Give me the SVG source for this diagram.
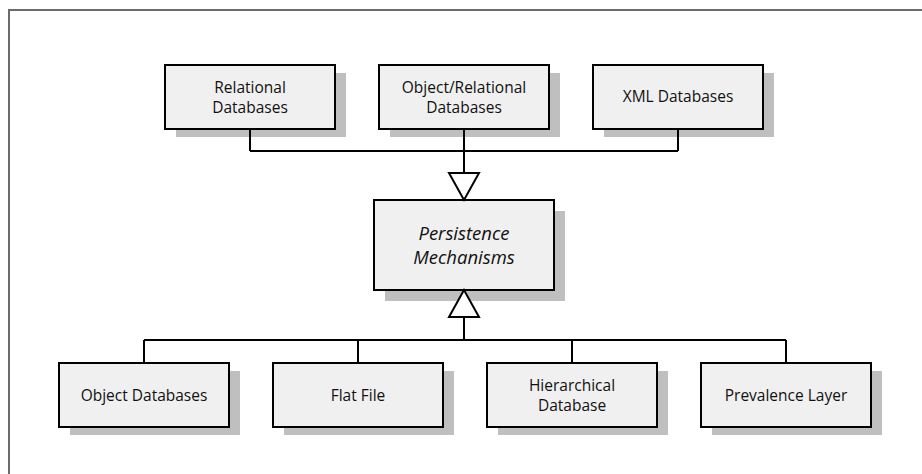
<svg xmlns="http://www.w3.org/2000/svg" width="922" height="474" viewBox="0 0 922 474">
  <style>
    .frame { stroke: #6b6b6b; stroke-width: 2; fill: none; }
    .shadow { fill: #bfbfbf; }
    .box { fill: #f0f0f0; stroke: #000; stroke-width: 2; }
    .label { font-family: "Open Sans", "Liberation Sans", sans-serif; font-size: 15.5px; fill: #111; text-anchor: middle; }
    .abstract { font-size: 18.5px; font-style: italic; }
    .wire { stroke: #000; stroke-width: 2; fill: none; }
    .head { fill: #fff; stroke: #000; stroke-width: 2; stroke-linejoin: miter; }
  </style>

  <rect width="922" height="474" fill="#fff"/>
  <!-- page frame (top and left edges visible) -->
  <path class="frame" d="M9,474 V10 H922"/>

  <!-- supertypes of the abstract class -->
  <g id="relational-databases">
    <rect class="shadow" x="176" y="73" width="170" height="64"/>
    <rect class="box" x="165" y="65" width="170" height="64"/>
    <text class="label" x="250" y="92.5">Relational</text>
    <text class="label" x="250" y="113">Databases</text>
  </g>
  <g id="object-relational-databases">
    <rect class="shadow" x="390" y="73" width="170" height="64"/>
    <rect class="box" x="379" y="65" width="170" height="64"/>
    <text class="label" x="464" y="92.5">Object/Relational</text>
    <text class="label" x="464" y="113">Databases</text>
  </g>
  <g id="xml-databases">
    <rect class="shadow" x="604" y="73" width="170" height="64"/>
    <rect class="box" x="593" y="65" width="170" height="64"/>
    <text class="label" x="678" y="102">XML Databases</text>
  </g>

  <!-- abstract class -->
  <g id="persistence-mechanisms">
    <rect class="shadow" x="385" y="211" width="180" height="90"/>
    <rect class="box" x="374" y="200" width="180" height="90"/>
    <text class="label abstract" x="464" y="240">Persistence</text>
    <text class="label abstract" x="464" y="264">Mechanisms</text>
  </g>

  <!-- concrete mechanisms -->
  <g id="object-databases">
    <rect class="shadow" x="70" y="371" width="170" height="64"/>
    <rect class="box" x="59" y="363" width="170" height="64"/>
    <text class="label" x="144" y="401">Object Databases</text>
  </g>
  <g id="flat-file">
    <rect class="shadow" x="284" y="371" width="170" height="64"/>
    <rect class="box" x="273" y="363" width="170" height="64"/>
    <text class="label" x="358" y="401">Flat File</text>
  </g>
  <g id="hierarchical-database">
    <rect class="shadow" x="498" y="371" width="170" height="64"/>
    <rect class="box" x="487" y="363" width="170" height="64"/>
    <text class="label" x="572" y="390.5">Hierarchical</text>
    <text class="label" x="572" y="411">Database</text>
  </g>
  <g id="prevalence-layer">
    <rect class="shadow" x="712" y="371" width="170" height="64"/>
    <rect class="box" x="701" y="363" width="170" height="64"/>
    <text class="label" x="786" y="401">Prevalence Layer</text>
  </g>

  <!-- generalization connectors, drawn over the node shadows -->
  <g id="connectors">
    <path class="wire" d="M250,129 V151 M464,129 V173 M678,129 V151 M250,151 H678"/>
    <polygon class="head" points="449,173 479,173 464,200"/>
    <path class="wire" d="M464,317 V340 M144,340 H786 M144,340 V363 M358,340 V363 M572,340 V363 M786,340 V363"/>
    <polygon class="head" points="464,290 449,317 479,317"/>
  </g>
</svg>
